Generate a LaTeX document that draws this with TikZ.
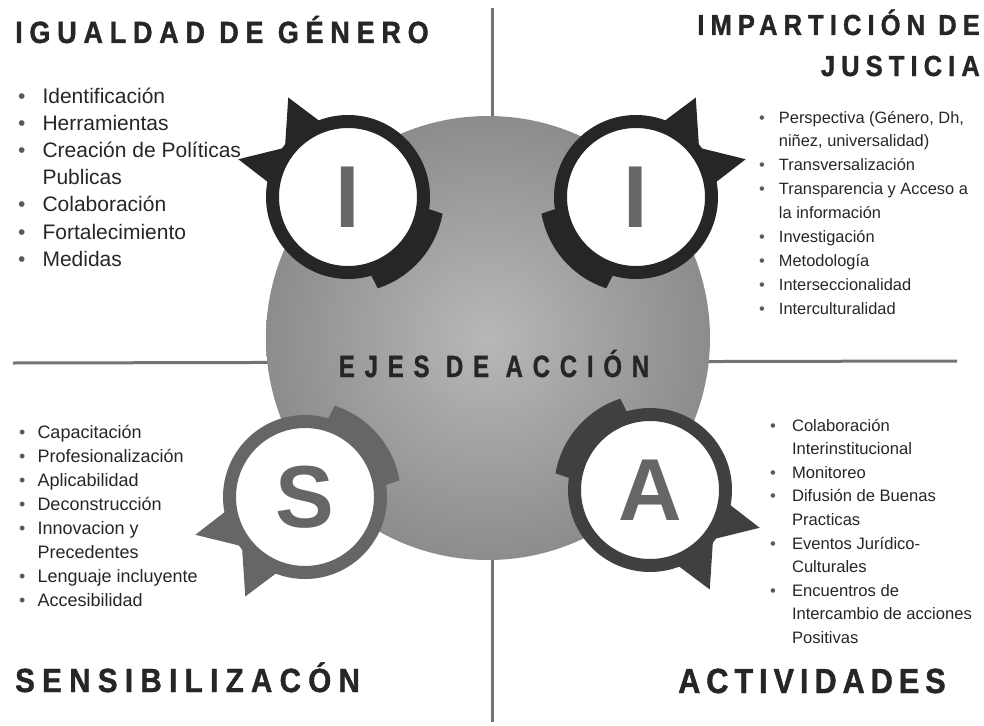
\documentclass[tikz,border=0pt]{standalone}
\usepackage{fontspec}
\setmainfont{Liberation Sans}
\newfontfamily\headfont{Liberation Sans}[FakeStretch=0.88, FakeBold=1.2, LetterSpace=22]
\newfontfamily\axisfont{Liberation Sans}[FakeStretch=0.78, FakeBold=1, LetterSpace=32]
\newcommand\bul{\textcolor{black!65}{•}}

\begin{document}
\begin{tikzpicture}[x=1pt, y=1pt,
  divider/.style = {draw=black!55, line width=3pt},
  hub/.style = {circle, inner sep=0pt, minimum size=444pt, inner color=black!28, outer color=black!45},
  ring/.style = {circle, fill=white, line width=13pt, minimum size=151pt, inner sep=0pt, text=black!60, font=\fontsize{88}{88}\selectfont\bfseries},
  heading/.style = {inner sep=0pt, text=black!85, font=\headfont\bfseries\fontsize{#1}{#1}\selectfont},
  list/.style 2 args = {inner sep=0pt, anchor=base west, text=black!85, font=\fontsize{#1}{#2}\selectfont}]
\useasboundingbox (0,0) rectangle (984,-725);

% cross lines
\coordinate (vtop) at (492,-8);
\coordinate (vbot) at (492,-722);
\coordinate (hleft) at (13,-363);
\coordinate (hright) at (957,-361);
\draw[divider] (vtop) -- (vbot);
\draw[divider] (hleft) -- (hright);

\node[hub] (hub) at (488,-338) {};

% the four badges
\foreach \n/\x/\y/\sx/\sy/\l/\c in {gen/348/197/1/1/I/black!85, imp/636/197/-1/1/I/black!85,
    sen/305/497/1/-1/S/black!60, act/650/490/-1/-1/A/black!75} {
  \begin{scope}[shift={(\x,-\y)}, xscale=\sx, yscale=\sy]
    \fill[\c] (110:80) -- (121:116) -- (142:80) -- (161:116) -- (170:80) -- cycle;
    \fill[\c] (-8:78) -- (-10:96) arc[start angle=-10, end angle=-72, radius=96] -- (-74:78) -- cycle;
  \end{scope}
  \node[ring, draw=\c] (\n) at (\x,-\y) {\l};
}

\node[inner sep=0pt, anchor=base, text=black!85, font=\axisfont\bfseries\fontsize{30.7}{30.7}\selectfont] (axis) at (494,-377) {EJES DE ACCIÓN};

% titles
\node[heading=30.7, anchor=base west] (gentitle) at (15,-43) {IGUALDAD DE GÉNERO};
\node[heading=29, anchor=base east] (imptitle) at (980,-35) {\addfontfeature{LetterSpace=21}IMPARTICIÓN DE};
\node[heading=29, anchor=base east] (justitle) at ([yshift=-41pt]imptitle.base east) {\addfontfeature{LetterSpace=21}JUSTICIA};
\node[heading=33.5, anchor=base west] (sentitle) at (15,-692) {SENSIBILIZACÓN};
\node[heading=34.9, anchor=base west] (acttitle) at (678,-693) {\addfontfeature{LetterSpace=17}ACTIVIDADES};

% lists
\node[list={21}{27.2}] (genlist) at (18,-103) {\begin{tabular}[t]{@{}l@{\hspace{17pt}}l@{}}
  \bul & Identificación\\
  \bul & Herramientas\\
  \bul & Creación de Políticas\\
       & Publicas\\
  \bul & Colaboración\\
  \bul & Fortalecimiento\\
  \bul & Medidas
\end{tabular}};
\node[list={16.4}{23.9}] (implist) at (759,-123) {\begin{tabular}[t]{@{}l@{\hspace{14pt}}l@{}}
  \bul & Perspectiva (Género, Dh,\\
       & niñez, universalidad)\\
  \bul & Transversalización\\
  \bul & Transparencia y Acceso a\\
       & la información\\
  \bul & Investigación\\
  \bul & Metodología\\
  \bul & Interseccionalidad\\
  \bul & Interculturalidad
\end{tabular}};
\node[list={18}{24.1}] (senlist) at (19,-438) {\begin{tabular}[t]{@{}l@{\hspace{12pt}}l@{}}
  \bul & Capacitación\\
  \bul & Profesionalización\\
  \bul & Aplicabilidad\\
  \bul & Deconstrucción\\
  \bul & Innovacion y\\
       & Precedentes\\
  \bul & Lenguaje incluyente\\
  \bul & Accesibilidad
\end{tabular}};
\node[list={16.6}{23.6}] (actlist) at (770,-431) {\begin{tabular}[t]{@{}l@{\hspace{16pt}}l@{}}
  \bul & Colaboración\\
       & Interinstitucional\\
  \bul & Monitoreo\\
  \bul & Difusión de Buenas\\
       & Practicas\\
  \bul & Eventos Jurídico-\\
       & Culturales\\
  \bul & Encuentros de\\
       & Intercambio de acciones\\
       & Positivas
\end{tabular}};
\end{tikzpicture}
\end{document}
